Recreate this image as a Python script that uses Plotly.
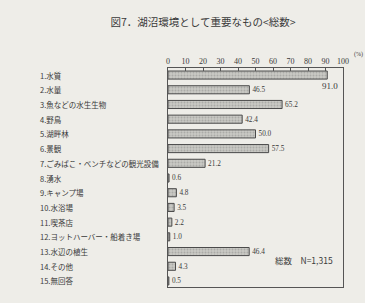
import plotly.graph_objects as go

categories = ["1.水質", "2.水量", "3.魚などの水生生物", "4.野鳥", "5.湖畔林", "6.景観",
              "7.ごみばこ・ベンチなどの観光設備", "8.湧水", "9.キャンプ場", "10.水浴場",
              "11.喫茶店", "12.ヨットハーバー・船着き場", "13.水辺の植生", "14.その他", "15.無回答"]
values = [91.0, 46.5, 65.2, 42.4, 50.0, 57.5, 21.2, 0.6, 4.8, 3.5, 2.2, 1.0, 46.4, 4.3, 0.5]
tick_vals = [0, 10, 20, 30, 40, 50, 60, 70, 80, 90, 100]
title_text = "図7．湖沼環境として重要なもの<総数>"
n_text = "総数　N=1,315"

jp = "Noto Sans CJK JP"
serif = "Liberation Serif"
ink = "#3a3a3a"

texts = ["" if i == 0 else f"{v:.1f}" for i, v in enumerate(values)]

fig = go.Figure(go.Bar(
    x=values, y=categories, orientation="h",
    text=texts, textposition="outside", cliponaxis=False,
    textfont=dict(family=serif, size=9, color=ink),
    marker=dict(color="#c9c9c4", line=dict(color="#4a4a4a", width=1),
                pattern=dict(shape=".", fgcolor="#8e8e8a", size=3, solidity=0.35)),
    width=0.55,
))

# label for the first (longest) bar sits below its end
fig.add_annotation(x=values[0], y=categories[0], text=f"{values[0]:.1f}",
                   xref="x", yref="y", showarrow=False, xanchor="center",
                   yshift=-11, xshift=3,
                   font=dict(family=serif, size=9, color=ink))

for c in categories:
    fig.add_annotation(x=-130 / 175, xref="paper", y=c, yref="y", text=c,
                       showarrow=False, xanchor="left",
                       font=dict(family=jp, size=7.5, color=ink))

fig.add_annotation(x=0.955, xref="paper", y=12.55, yref="y", text=n_text,
                   showarrow=False, xanchor="right",
                   font=dict(family=jp, size=8.5, color=ink))

fig.add_annotation(x=(352 - 168) / 175, xref="paper", y=1.085, yref="paper",
                   text="(%)", showarrow=False, xanchor="left",
                   font=dict(family=serif, size=6, color=ink))

fig.update_layout(
    width=365, height=303,
    margin=dict(l=168, r=22, t=68, b=16),
    paper_bgcolor="#eeede8", plot_bgcolor="#eeede8",
    showlegend=False,
    title=dict(text=title_text, x=(203) / 365, xanchor="center",
               y=1 - 22 / 303, yanchor="middle",
               font=dict(family=jp, size=10.5, color=ink)),
    xaxis=dict(range=[0, 100], side="top", tickvals=tick_vals,
               ticks="inside", ticklen=3, tickcolor="#555",
               showgrid=False, zeroline=False,
               showline=True, linecolor="#555", linewidth=1, mirror=True,
               tickfont=dict(family=serif, size=8, color=ink)),
    yaxis=dict(type="category", range=[14.41, -0.48], showticklabels=False,
               ticks="", showgrid=False, zeroline=False,
               showline=True, linecolor="#555", linewidth=1, mirror=True),
)

fig.write_html("out.html")
